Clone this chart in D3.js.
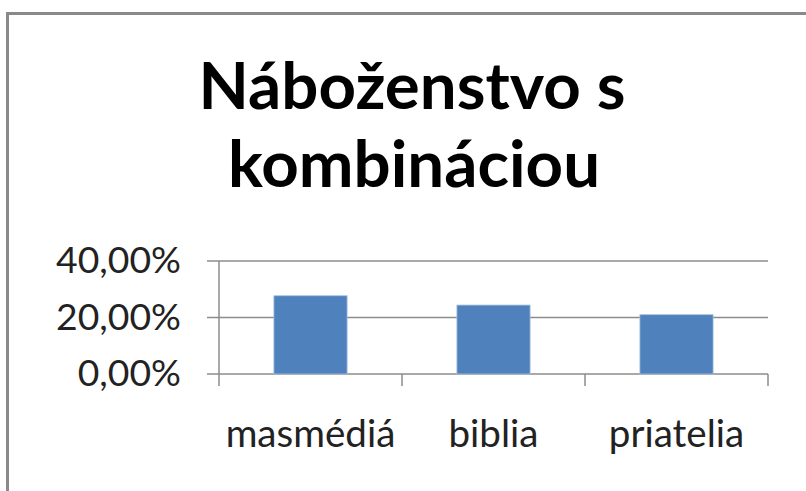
<!DOCTYPE html>
<html>
<head>
<meta charset="utf-8">
<script src="https://cdn.jsdelivr.net/npm/d3@7"></script>
<style>
  body { margin: 0; background: #fff; }
  text { font-family: Lato, "Open Sans", sans-serif; }
</style>
</head>
<body>
<svg id="canvas"></svg>
<script>
const svg = d3.select("#canvas");

svg
  .attr('width', 806)
  .attr('height', 491)
  .style("background-color", "#fff")

// data
const categories = ["masmédiá", "biblia", "priatelia"];
const values = [0.277, 0.244, 0.210];
const yTicks = [0, 0.2, 0.4];
const titleLines = ["Náboženstvo s", "kombináciou"];

// chart frame (runs off the right / bottom edge like the original)
svg.append('rect')
  .attr('x', 7.5)
  .attr('y', 13.5)
  .attr('width', 830)
  .attr('height', 520)
  .attr('fill', 'white')
  .attr('stroke', '#8a8a8a')
  .attr('stroke-width', 3);

// scale text so it spans a given width
function fitWidth(sel, target) {
  const w = sel.node().getComputedTextLength();
  const fs = parseFloat(sel.attr('font-size'));
  sel.attr('font-size', fs * target / w);
}

// title
const t1 = svg.append('text')
  .attr('x', 412).attr('y', 109)
  .attr('text-anchor', 'middle')
  .attr('font-weight', 'bold')
  .attr('font-size', 50)
  .text(titleLines[0]);
fitWidth(t1, 427);
const t2 = svg.append('text')
  .attr('x', 414).attr('y', 187)
  .attr('text-anchor', 'middle')
  .attr('font-weight', 'bold')
  .attr('font-size', t1.attr('font-size'))
  .text(titleLines[1]);

// scales
const x = d3.scaleBand()
  .domain(categories)
  .range([219, 768])
  .paddingInner(0.6)
  .paddingOuter(0.3);

const y = d3.scaleLinear()
  .domain([0, 0.4])
  .range([374, 261]);

// gridlines
svg.append('g')
  .selectAll('line')
  .data(yTicks)
  .join('line')
  .attr('x1', 207)
  .attr('x2', 768)
  .attr('y1', d => y(d))
  .attr('y2', d => y(d))
  .attr('stroke', '#8c8c8c')
  .attr('stroke-width', 1.5);

// y axis line
svg.append('line')
  .attr('x1', 219).attr('x2', 219)
  .attr('y1', y(0.4)).attr('y2', 386)
  .attr('stroke', '#8c8c8c')
  .attr('stroke-width', 1.5);

// category ticks
const edges = categories.map(c => x(c) - x.step() * x.paddingInner() / 2 + x.step())
svg.append('g')
  .selectAll('line')
  .data(edges)
  .join('line')
  .attr('x1', d => d).attr('x2', d => d)
  .attr('y1', y(0)).attr('y2', 386)
  .attr('stroke', '#8c8c8c')
  .attr('stroke-width', 1.5);

// bars
svg.append('g')
  .selectAll('rect')
  .data(values)
  .join('rect')
  .attr('x', (d, i) => x(categories[i]))
  .attr('y', d => y(d))
  .attr('width', x.bandwidth())
  .attr('height', d => y(0) - y(d))
  .attr('fill', '#4f81bd')
  .attr('stroke', '#a9c1e0')
  .attr('stroke-width', 0.8);

// y tick labels
const fmt = d => d3.format('.2f')(d * 100).replace('.', ',') + '%';
const yl = svg.append('g')
  .selectAll('text')
  .data(yTicks)
  .join('text')
  .attr('x', 181)
  .attr('y', d => y(d) + 12)
  .attr('text-anchor', 'end')
  .attr('font-size', 32)
  .attr('fill', '#222')
  .text(fmt);
fitWidth(d3.select(yl.nodes()[2]), 125);
yl.attr('font-size', d3.select(yl.nodes()[2]).attr('font-size'));

// category labels
const cl = svg.append('g')
  .selectAll('text')
  .data(categories)
  .join('text')
  .attr('x', d => x(d) + x.bandwidth() / 2)
  .attr('y', 447)
  .attr('text-anchor', 'middle')
  .attr('font-size', 32)
  .attr('fill', '#222')
  .text(d => d);
fitWidth(d3.select(cl.nodes()[1]), 90);
cl.attr('font-size', d3.select(cl.nodes()[1]).attr('font-size'));
</script>
</body>
</html>
